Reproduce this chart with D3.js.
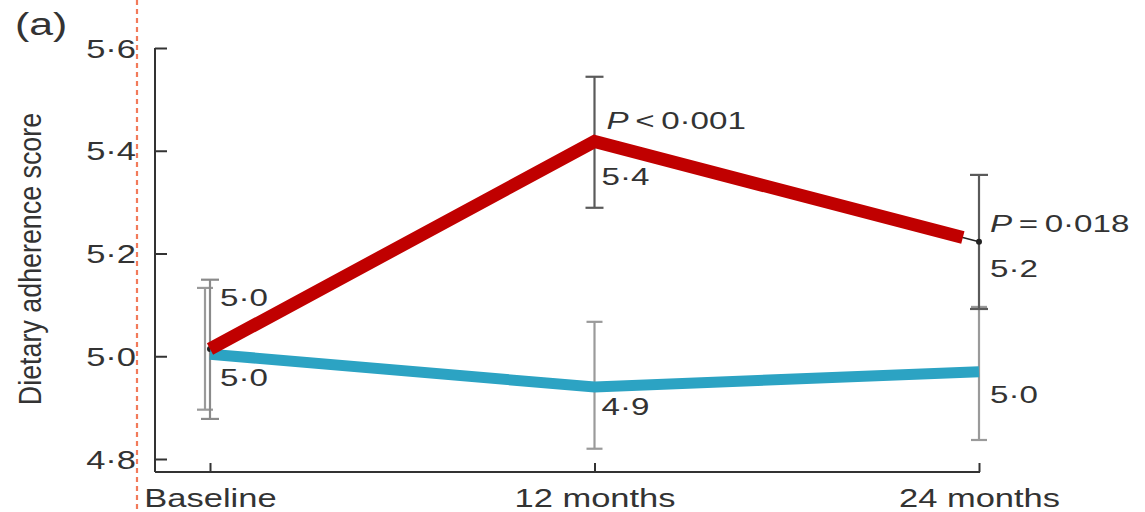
<!DOCTYPE html>
<html>
<head>
<meta charset="utf-8">
<script src="https://cdn.jsdelivr.net/npm/d3@7"></script>
<style>
  body { margin: 0; background: #fff; }
  svg { display: block; }
  text { font-family: "Liberation Sans", Arial, Helvetica, sans-serif; fill: #333; }
</style>
</head>
<body>
<svg id="chart" width="1145" height="512"></svg>
<script>
// Time points of the trial
const timepoints = ["Baseline", "12 months", "24 months"];

// Intervention group: mean score and 95% CI
const interventionMean = [5.014, 5.418, 5.223];
const interventionLow  = [4.878, 5.289, 5.092];
const interventionHigh = [5.149, 5.544, 5.353];

// Control group: mean score and 95% CI
const controlMean = [5.004, 4.94, 4.97];
const controlLow  = [4.896, 4.820, 4.837];
const controlHigh = [5.133, 5.067, 5.096];

// Between-group P values (none at baseline)
const pRelation = [null, "<", "="];
const pValue    = [null, "0·001", "0·018"];

// Y axis ticks
const yTicks = [4.8, 5.0, 5.2, 5.4, 5.6];

const svg = d3.select("#chart");
const SX = 1.38;           // horizontal widening of the lettering
const FONT = 25;

const x = d3.scalePoint().domain(timepoints).range([210, 979]);
const y = d3.scaleLinear().domain([4.8, 5.6]).range([459, 48]);

const fmt = v => d3.format(".1f")(v).replace(".", "·");

function addText(parent, px, py, anchor, size) {
  return parent.append("text")
    .attr("transform", `translate(${px},${py}) scale(${SX},1)`)
    .attr("text-anchor", anchor)
    .style("font-size", size + "px");
}

// Red dashed guide on the left
svg.append("line")
  .attr("x1", 137).attr("x2", 137).attr("y1", 0).attr("y2", 512)
  .attr("stroke", "#f27a5a").attr("stroke-width", 2.2)
  .attr("stroke-dasharray", "5,4");

// Panel letter
addText(svg, 15, 35, "start", 31).text("(a)");

// Axis title
svg.append("text")
  .attr("transform", "translate(41,259) rotate(-90) scale(1.22,1.4)")
  .attr("text-anchor", "middle")
  .style("font-size", "22px")
  .text("Dietary adherence score");

// ---- Axes ----
const yAxis = svg.append("g")
  .attr("transform", "translate(155,0)")
  .call(d3.axisLeft(y).tickValues(yTicks).tickSize(-12).tickFormat(fmt));
yAxis.select(".domain").remove();
yAxis.selectAll(".tick line").attr("stroke", "#333").attr("stroke-width", 2);
yAxis.selectAll(".tick text")
  .attr("x", null).attr("dy", null)
  .attr("transform", `translate(-19,9) scale(${SX},1)`)
  .attr("text-anchor", "end")
  .attr("fill", "#333")
  .style("font-size", FONT + "px")
  .style("font-family", null);
yAxis.append("line")
  .attr("x1", 0).attr("x2", 0).attr("y1", y(5.6)).attr("y2", 472)
  .attr("stroke", "#333").attr("stroke-width", 2);

const xAxis = svg.append("g")
  .attr("transform", "translate(0,472)")
  .call(d3.axisBottom(x).tickSize(-9));
xAxis.select(".domain").remove();
xAxis.selectAll(".tick line").attr("stroke", "#333").attr("stroke-width", 2);
xAxis.selectAll(".tick text")
  .attr("y", null).attr("dy", null)
  .attr("transform", `translate(0,35) scale(${SX},1)`)
  .attr("text-anchor", "middle")
  .attr("fill", "#333")
  .style("font-size", FONT + "px")
  .style("font-family", null);
xAxis.append("line")
  .attr("x1", 155).attr("x2", x(timepoints[2]) + 1).attr("y1", 0).attr("y2", 0)
  .attr("stroke", "#333").attr("stroke-width", 2);

// ---- Error bars ----
const ctrlShift = [-5, 0, 0];
const bars = [];
timepoints.forEach((t, i) => {
  bars.push({ cx: x(t) + ctrlShift[i], lo: controlLow[i], hi: controlHigh[i], cap: 8, color: "#9a9a9a" });
});
timepoints.forEach((t, i) => {
  bars.push({ cx: x(t), lo: interventionLow[i], hi: interventionHigh[i], cap: 9, color: i === 0 ? "#8a8a8a" : "#5a5a5a" });
});
const barG = svg.append("g");
bars.forEach(b => {
  const g = barG.append("g").attr("stroke", b.color).attr("stroke-width", 2.2);
  g.append("line").attr("x1", b.cx).attr("x2", b.cx).attr("y1", y(b.hi)).attr("y2", y(b.lo));
  g.append("line").attr("x1", b.cx - b.cap).attr("x2", b.cx + b.cap).attr("y1", y(b.hi)).attr("y2", y(b.hi));
  g.append("line").attr("x1", b.cx - b.cap).attr("x2", b.cx + b.cap).attr("y1", y(b.lo)).attr("y2", y(b.lo));
});

// ---- Series lines ----
const line = d3.line().x(d => d[0]).y(d => d[1]);
const ptsI = timepoints.map((t, i) => [x(t), y(interventionMean[i])]);
const ptsC = timepoints.map((t, i) => [x(t), y(controlMean[i])]);

// thin connector and mean markers of the intervention group
svg.append("path").attr("d", line(ptsI)).attr("fill", "none")
  .attr("stroke", "#222").attr("stroke-width", 1.5);
svg.selectAll(".mean").data(ptsI).join("circle").attr("class", "mean")
  .attr("cx", d => d[0]).attr("cy", d => d[1]).attr("r", 3).attr("fill", "#222");

svg.append("path").attr("d", line(ptsC)).attr("fill", "none")
  .attr("stroke", "#2ca3c3").attr("stroke-width", 11)
  .attr("stroke-linejoin", "miter");

// thick intervention line stops just short of its last mean
const ptsIThick = ptsI.slice();
ptsIThick[2] = d3.interpolate(ptsI[1], ptsI[2])(0.958);
svg.append("path").attr("d", line(ptsIThick)).attr("fill", "none")
  .attr("stroke", "#c00000").attr("stroke-width", 13)
  .attr("stroke-linejoin", "miter");

// ---- Value labels ----
const labI = [[10, -43], [7, 43], [11, 35]];
const labC = [[10, 32], [7, 28], [11, 31]];
const labP = [null, [12, -13], [11, -10]];
timepoints.forEach((t, i) => {
  addText(svg, x(t) + labI[i][0], y(interventionMean[i]) + labI[i][1], "start", FONT - 1)
    .text(fmt(interventionMean[i]));
  addText(svg, x(t) + labC[i][0], y(controlMean[i]) + labC[i][1], "start", FONT - 1)
    .text(fmt(controlMean[i]));
  if (pValue[i]) {
    const tx = addText(svg, x(t) + labP[i][0], y(interventionMean[i]) + labP[i][1], "start", FONT - 1);
    tx.append("tspan").style("font-style", "italic").text("P");
    tx.append("tspan").text("\u2009" + pRelation[i] + "\u2009" + pValue[i]);
  }
});
</script>
</body>
</html>
